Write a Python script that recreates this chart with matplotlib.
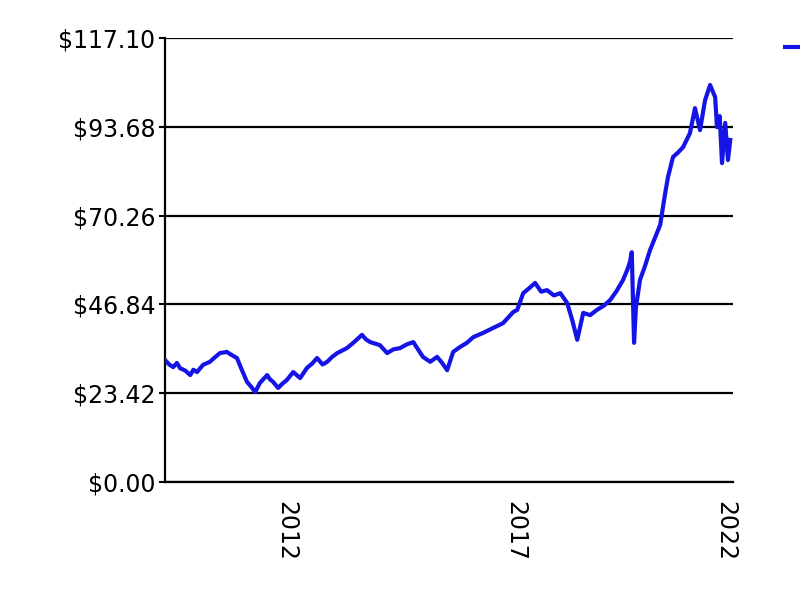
import matplotlib
matplotlib.use("Agg")
from matplotlib import pyplot as plt
from matplotlib.lines import Line2D

# price history (fractional year, close price in $)
years = [2009.36, 2009.45, 2009.54, 2009.62, 2009.69, 2009.80, 2009.91, 2009.98, 2010.06,
         2010.19, 2010.34, 2010.45, 2010.56, 2010.71, 2010.80, 2010.93, 2011.04,
         2011.15, 2011.25, 2011.33, 2011.43, 2011.59, 2011.65, 2011.72, 2011.83,
         2011.92, 2012.02, 2012.16, 2012.31, 2012.46, 2012.57, 2012.68, 2012.80,
         2012.90, 2013.01, 2013.12, 2013.33, 2013.47, 2013.66, 2013.75, 2013.84,
         2014.05, 2014.21, 2014.35, 2014.49, 2014.64, 2014.78, 2014.99, 2015.15,
         2015.30, 2015.41, 2015.52, 2015.65, 2015.80, 2015.95, 2016.09, 2016.30,
         2016.52, 2016.74, 2016.96, 2017.05, 2017.18, 2017.30, 2017.44, 2017.57,
         2017.70, 2017.85, 2017.99, 2018.14, 2018.25, 2018.36, 2018.49, 2018.64,
         2018.79, 2018.94, 2019.08, 2019.22, 2019.36, 2019.45, 2019.51, 2019.55,
         2019.60, 2019.64, 2019.73, 2019.84, 2019.95, 2020.06, 2020.17, 2020.28,
         2020.34, 2020.45, 2020.56, 2020.67, 2020.82, 2020.93, 2021.04, 2021.15,
         2021.26, 2021.37, 2021.41, 2021.47, 2021.52, 2021.59, 2021.65, 2021.70]
prices = [32.2, 31.0, 30.3, 31.4, 30.0, 29.4, 28.2, 29.6, 29.0,
          30.9, 31.7, 32.9, 34.0, 34.3, 33.6, 32.7, 29.5,
          26.4, 25.0, 23.7, 26.1, 28.2, 27.1, 26.4, 24.8,
          25.9, 26.9, 29.0, 27.4, 30.1, 31.2, 32.7, 31.0,
          31.7, 33.0, 34.0, 35.3, 36.7, 38.8, 37.6, 36.9,
          36.1, 34.0, 35.0, 35.3, 36.3, 36.9, 33.0, 31.7,
          33.0, 31.4, 29.5, 34.3, 35.6, 36.7, 38.2, 39.3,
          40.6, 41.9, 44.8, 45.4, 49.8, 51.0, 52.5, 50.2,
          50.6, 49.2, 49.8, 47.2, 42.7, 37.5, 44.6, 44.0,
          45.4, 46.5, 48.0, 50.4, 53.3, 55.9, 58.0, 60.6,
          36.7, 46.0, 53.3, 57.0, 61.2, 64.5, 67.8, 76.2,
          80.4, 85.7, 86.9, 88.3, 92.0, 98.6, 92.8, 100.7,
          104.7, 101.5, 93.6, 96.5, 84.1, 94.7, 84.9, 90.2]

y_ticks = [0.0, 23.42, 46.84, 70.26, 93.68, 117.10]
x_ticks = [2012, 2017, 2021.6]
x_labels = ["2012", "2017", "2022"]

blue = "#1414e6"

fig = plt.figure(figsize=(8, 6.04), dpi=100)
ax = fig.add_axes([0.20625, 0.2020, 0.71, 0.7351])

for v in y_ticks:
    ax.axhline(v, color="black", lw=1.6, zorder=1)

line, = ax.plot(years, prices, color=blue, lw=3, zorder=3)

ax.set_xlim(2009.36, 2021.76)
ax.set_ylim(0, 117.10)
ax.set_yticks(y_ticks)
ax.set_yticklabels(["${:.2f}".format(v) for v in y_ticks])
ax.set_xticks(x_ticks)
ax.set_xticklabels(x_labels, rotation=270)

for s in ["top", "right"]:
    ax.spines[s].set_visible(False)
for s in ["left", "bottom"]:
    ax.spines[s].set_linewidth(1.6)

ax.tick_params(axis="y", length=4, width=1.5, pad=3, labelsize=17)
ax.tick_params(axis="x", length=0, pad=14, labelsize=17)
for lab in ax.get_xticklabels():
    lab.set_verticalalignment("top")

# legend sits at the right edge, only its key is visible
fig.legend(handles=[Line2D([0], [0], color=blue, lw=3)], labels=[""],
           loc="center left", bbox_to_anchor=(0.981, 1 - 48 / 604),
           frameon=False, borderpad=0, borderaxespad=0, handlelength=1.5,
           fontsize=17)

fig.savefig("out.png", dpi=100)
